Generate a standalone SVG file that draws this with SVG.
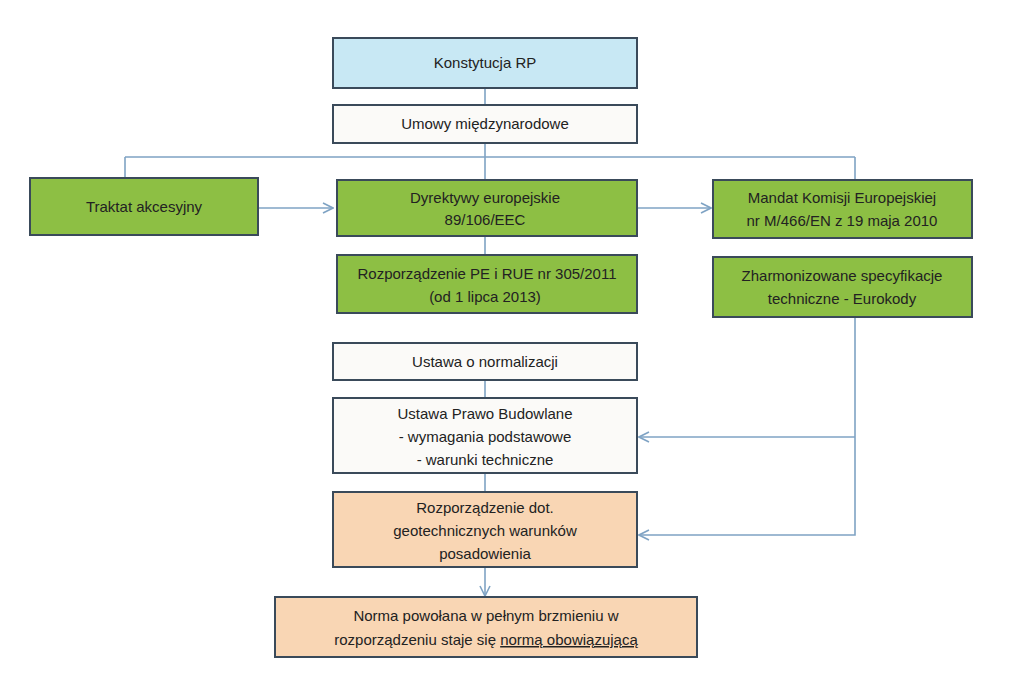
<svg xmlns="http://www.w3.org/2000/svg" width="1023" height="685" viewBox="0 0 1023 685">
<defs>
<style>
.b{stroke:#3a4a5a;stroke-width:2}
.w{fill:#fbfaf8}.g{fill:#8dbf44}.p{fill:#f9d6b4}.bl{fill:#c8e8f4}
text{font-family:"Liberation Sans",Arial,sans-serif;font-size:15px;fill:#222;text-anchor:middle}
.c{stroke:#7fa3c4;stroke-width:1.6;fill:none}
</style>
<marker id="a" markerWidth="12" markerHeight="12" refX="11" refY="6" orient="auto" markerUnits="userSpaceOnUse"><path d="M1,1 L11,6 L1,11" fill="none" stroke="#7fa3c4" stroke-width="1.6"/></marker>
</defs>
<rect width="1023" height="685" fill="#fff"/>
<g id="connectors">
<path class="c" d="M485 88V105M485 143V157M125 157H855M125 157V178M485 157V180M855 157V180M485 236V255M485 380V398M485 473V492"/>
<path class="c" d="M258 208H333" marker-end="url(#a)"/>
<path class="c" d="M637 208H711" marker-end="url(#a)"/>
<path class="c" d="M855 317V535H639" marker-end="url(#a)"/>
<path class="c" d="M855 437H639" marker-end="url(#a)"/>
<path class="c" d="M485 567V596" marker-end="url(#a)"/>
</g>
<g id="n1"><rect class="b bl" x="333" y="38" width="304" height="50"/><text x="485" y="68">Konstytucja RP</text></g>
<g id="n2"><rect class="b w" x="333" y="105" width="304" height="38"/><text x="485" y="129">Umowy międzynarodowe</text></g>
<g id="n3"><rect class="b g" x="30" y="178" width="228" height="57"/><text x="144" y="212">Traktat akcesyjny</text></g>
<g id="n4"><rect class="b g" x="337" y="180" width="300" height="56"/><text x="485" y="203">Dyrektywy europejskie</text><text x="485" y="225">89/106/EEC</text></g>
<g id="n5"><rect class="b g" x="713" y="180" width="259" height="58"/><text x="842" y="203">Mandat Komisji Europejskiej</text><text x="842" y="226">nr M/466/EN z 19 maja 2010</text></g>
<g id="n6"><rect class="b g" x="337" y="255" width="300" height="58"/><text x="487" y="279">Rozporządzenie PE i RUE nr 305/2011</text><text x="485" y="302">(od 1 lipca 2013)</text></g>
<g id="n7"><rect class="b g" x="713" y="257" width="259" height="60"/><text x="842" y="281">Zharmonizowane specyfikacje</text><text x="842" y="304">techniczne - Eurokody</text></g>
<g id="n8"><rect class="b w" x="333" y="343" width="304" height="37"/><text x="485" y="367">Ustawa o normalizacji</text></g>
<g id="n9"><rect class="b w" x="333" y="398" width="304" height="75"/><text x="485" y="419">Ustawa Prawo Budowlane</text><text x="485" y="442">- wymagania podstawowe</text><text x="485" y="465">- warunki techniczne</text></g>
<g id="n10"><rect class="b p" x="333" y="492" width="304" height="75"/><text x="485" y="513">Rozporządzenie dot.</text><text x="485" y="536">geotechnicznych warunków</text><text x="485" y="559">posadowienia</text></g>
<g id="n11"><rect class="b p" x="275" y="597" width="422" height="60"/><text x="486" y="621">Norma powołana w pełnym brzmieniu w</text><text x="486" y="645">rozporządzeniu staje się <tspan text-decoration="underline">normą obowiązującą</tspan></text></g>
</svg>
